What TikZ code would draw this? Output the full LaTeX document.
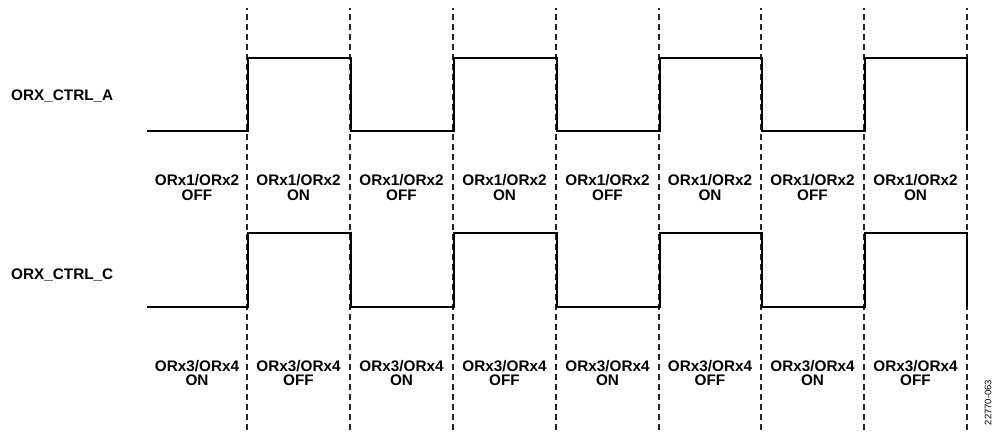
\documentclass[tikz,border=0pt]{standalone}
\usepackage{fontspec}
\setmainfont{Liberation Sans}
\begin{document}
\begin{tikzpicture}[x=1pt,y=-1pt,
  gridline/.style={dash pattern=on 6pt off 4pt, dash phase=4pt, line width=1.2pt, black!85},
  sig/.style={line width=2pt, line join=miter},
  lbl/.style={font=\fontsize{15.3}{14.4}\selectfont\bfseries, align=center, inner sep=0pt},
  sname/.style={font=\fontsize{15.3}{15}\selectfont\bfseries, anchor=base west, inner sep=0pt},
  tag/.style={font=\fontsize{9.5}{10}\selectfont, rotate=90, inner sep=0pt}]
\useasboundingbox (0,0) rectangle (999,432);
% time grid
\foreach \x [count=\i] in {247,350,453,556,659,761,864,967} {
  \coordinate (t\i) at (\x,8);
  \coordinate (b\i) at (\x,432);
  \draw[gridline] (t\i) -- (b\i);
}
% signal names
\node[sname] (nameA) at (11,100) {ORX\_CTRL\_A};
\node[sname] (nameC) at (11,279.3) {ORX\_CTRL\_C};
% ORX_CTRL_A waveform
\draw[sig] (147,131) -- (248,131) -- (248,58) -- (351,58) -- (351,131) -- (454,131) -- (454,58)
  -- (557,58) -- (557,131) -- (660,131) -- (660,58) -- (762,58) -- (762,131) -- (865,131)
  -- (865,58) -- (967,58) -- (967,131);
% ORX_CTRL_C waveform
\draw[sig] (147,307) -- (248,307) -- (248,233) -- (351,233) -- (351,307) -- (454,307) -- (454,233)
  -- (557,233) -- (557,307) -- (660,307) -- (660,233) -- (762,233) -- (762,307) -- (865,307)
  -- (865,233) -- (967,233) -- (967,307);
% state labels, A
\node[lbl] (a1) at (197,187.5) {ORx1/ORx2\\OFF};
\node[lbl] (a2) at (298.5,187.5) {ORx1/ORx2\\ON};
\node[lbl] (a3) at (401.5,187.5) {ORx1/ORx2\\OFF};
\node[lbl] (a4) at (504.5,187.5) {ORx1/ORx2\\ON};
\node[lbl] (a5) at (607.5,187.5) {ORx1/ORx2\\OFF};
\node[lbl] (a6) at (710,187.5) {ORx1/ORx2\\ON};
\node[lbl] (a7) at (812.5,187.5) {ORx1/ORx2\\OFF};
\node[lbl] (a8) at (915.5,187.5) {ORx1/ORx2\\ON};
% state labels, C
\node[lbl] (c1) at (197,372.8) {ORx3/ORx4\\ON};
\node[lbl] (c2) at (298.5,372.8) {ORx3/ORx4\\OFF};
\node[lbl] (c3) at (401.5,372.8) {ORx3/ORx4\\ON};
\node[lbl] (c4) at (504.5,372.8) {ORx3/ORx4\\OFF};
\node[lbl] (c5) at (607.5,372.8) {ORx3/ORx4\\ON};
\node[lbl] (c6) at (710,372.8) {ORx3/ORx4\\OFF};
\node[lbl] (c7) at (812.5,372.8) {ORx3/ORx4\\ON};
\node[lbl] (c8) at (915.5,372.8) {ORx3/ORx4\\OFF};
% figure tag
\node[tag] (fig) at (988,402.5) {22770-063};
\end{tikzpicture}
\end{document}
